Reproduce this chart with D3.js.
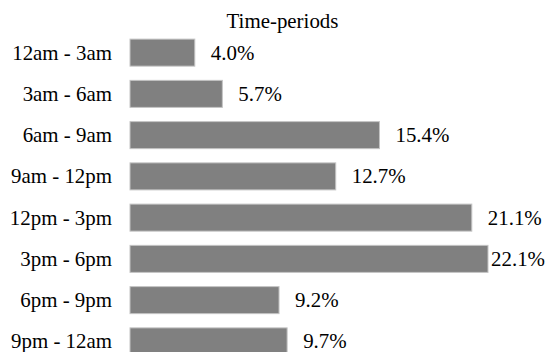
<!DOCTYPE html>
<html>
<head>
<meta charset="utf-8">
<script src="https://cdn.jsdelivr.net/npm/d3@7"></script>
<style>
  body { margin: 0; background: #fff; }
  svg { display: block; }
  svg text { font-family: "Liberation Serif", "Times New Roman", Times, serif; }
</style>
</head>
<body>
<script>
// time-periods and their share
var periods = ["12am - 3am", "3am - 6am", "6am - 9am", "9am - 12pm",
               "12pm - 3pm", "3pm - 6pm", "6pm - 9pm", "9pm - 12am"];
var shares = [4.0, 5.7, 15.4, 12.7, 21.1, 22.1, 9.2, 9.7];
var chartTitle = "Time-periods";

var w = 547;
var h = 352;
var fontSize = 20.9;

var dataset = periods.map(function(p, i) { return { period: p, share: shares[i] }; });

var svg = d3.select("body").append("svg")
  .attr("width", w)
  .attr("height", h);

var xScale = d3.scaleLinear()
  .domain([0, 22.1])
  .range([130, 488]);

var yScale = d3.scaleBand()
  .domain(periods)
  .range([32, 362])
  .paddingInner(0.345)
  .paddingOuter(0.1725);

// title
svg.append("text")
  .text(chartTitle)
  .attr("x", 282.5)
  .attr("y", 28)
  .attr("text-anchor", "middle")
  .style("font-size", fontSize + "px")
  .attr("fill", "#000");

// bars
svg.selectAll("rect.bar")
  .data(dataset)
  .enter()
  .append("rect")
  .attr("class", "bar")
  .attr("x", xScale(0))
  .attr("y", function(d) { return yScale(d.period); })
  .attr("width", function(d) { return xScale(d.share) - xScale(0); })
  .attr("height", yScale.bandwidth())
  .attr("fill", "#808080")
  .attr("stroke", "#c4c4c4")
  .attr("stroke-width", 1);

// category labels
svg.selectAll("text.cat")
  .data(dataset)
  .enter()
  .append("text")
  .attr("class", "cat")
  .text(function(d) { return d.period; })
  .attr("x", 112)
  .attr("y", function(d) { return yScale(d.period) + yScale.bandwidth() / 2; })
  .attr("dy", "0.33em")
  .attr("text-anchor", "end")
  .style("font-size", fontSize + "px")
  .attr("fill", "#000");

// value labels, kept inside the picture
svg.selectAll("text.val")
  .data(dataset)
  .enter()
  .append("text")
  .attr("class", "val")
  .text(function(d) { return d.share.toFixed(1) + "%"; })
  .attr("y", function(d) { return yScale(d.period) + yScale.bandwidth() / 2; })
  .attr("dy", "0.33em")
  .style("font-size", fontSize + "px")
  .attr("fill", "#000")
  .attr("x", function(d) {
    var tw = this.getComputedTextLength();
    return Math.min(xScale(d.share) + 16, w - 2 - tw);
  });
</script>
</body>
</html>
